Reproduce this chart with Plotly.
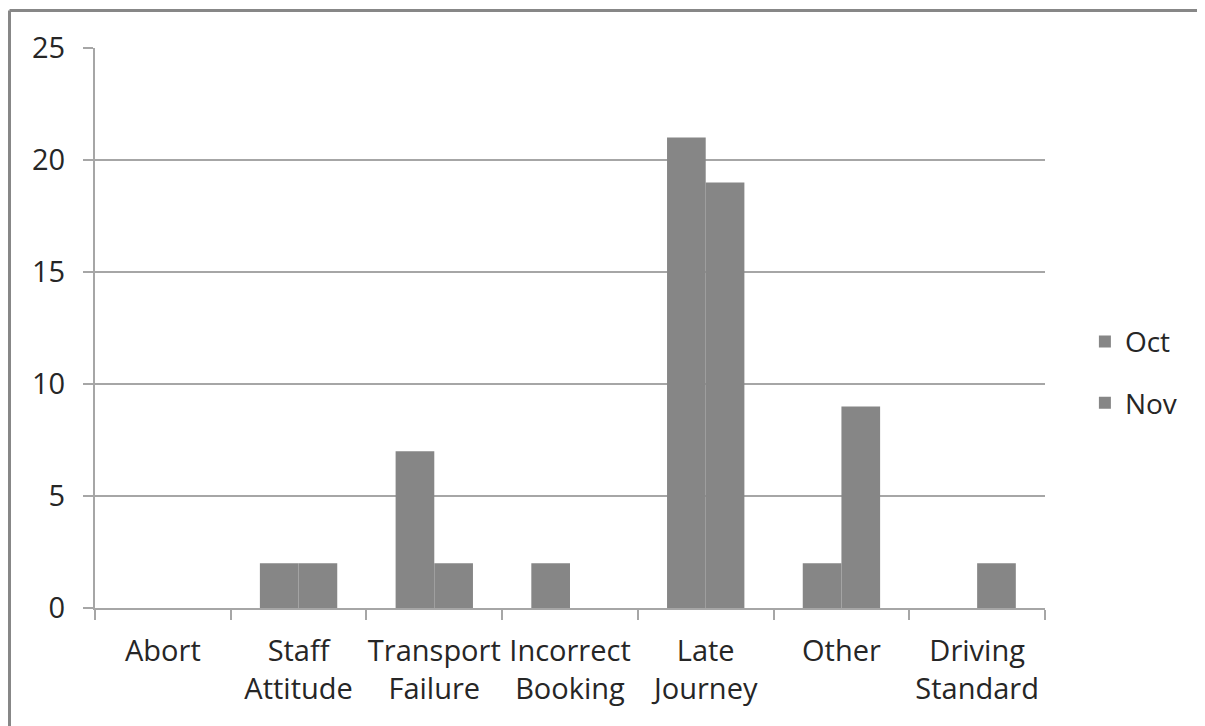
import plotly.graph_objects as go

categories = ["Abort", "Staff<br>Attitude", "Transport<br>Failure", "Incorrect<br>Booking",
              "Late<br>Journey", "Other", "Driving<br>Standard"]
oct_values = [0, 2, 7, 2, 21, 2, 0]
nov_values = [0, 2, 2, 0, 19, 9, 2]
y_ticks = [0, 5, 10, 15, 20, 25]

BAR = '#868686'
GRID = '#a6a6a6'
FONT = dict(family='Open Sans', size=29, color='#262626')

fig = go.Figure()
fig.add_trace(go.Bar(x=categories, y=oct_values, name='Oct', legendgroup='oct',
                     marker=dict(color=BAR, line=dict(width=0))))
fig.add_trace(go.Bar(x=categories, y=nov_values, name='Nov', legendgroup='nov',
                     marker=dict(color=BAR, line=dict(width=0))))

# chart border (only top and left visible in the frame)
for x0, y0, x1, y1 in [(-0.09, 1.067, -0.09, -0.5), (-0.09, 1.067, 1.3, 1.067)]:
    fig.add_shape(type='line', xref='paper', yref='paper', x0=x0, y0=y0, x1=x1, y1=y1,
                  line=dict(color='#878787', width=3))

# page body adds 8px offset, margins compensate
fig.update_layout(
    width=1205, height=726,
    margin=dict(l=87, r=168, t=40, b=126),
    paper_bgcolor='white', plot_bgcolor='white',
    font=FONT,
    barmode='group', bargap=0.43, bargroupgap=0,
    showlegend=True,
    legend=dict(x=1.042, xanchor='left', y=0.421, yanchor='middle',
                font=dict(family='Open Sans', size=28, color='#262626'),
                tracegroupgap=22, bgcolor='rgba(0,0,0,0)'),
    xaxis=dict(showline=True, linecolor=GRID, linewidth=2, ticks='outside',
               tickson='boundaries', ticklen=10, tickwidth=2, tickcolor=GRID,
               tickangle=0, automargin=False, showgrid=False,
               ticklabelstandoff=16),
    yaxis=dict(range=[0, 25], tickvals=y_ticks, showline=True, linecolor=GRID, linewidth=2,
               ticks='outside', ticklen=10, tickwidth=2, tickcolor=GRID,
               showgrid=True, gridcolor=GRID, gridwidth=2, zeroline=False,
               ticklabelstandoff=12, automargin=False),
)

fig.write_html("out.html")
